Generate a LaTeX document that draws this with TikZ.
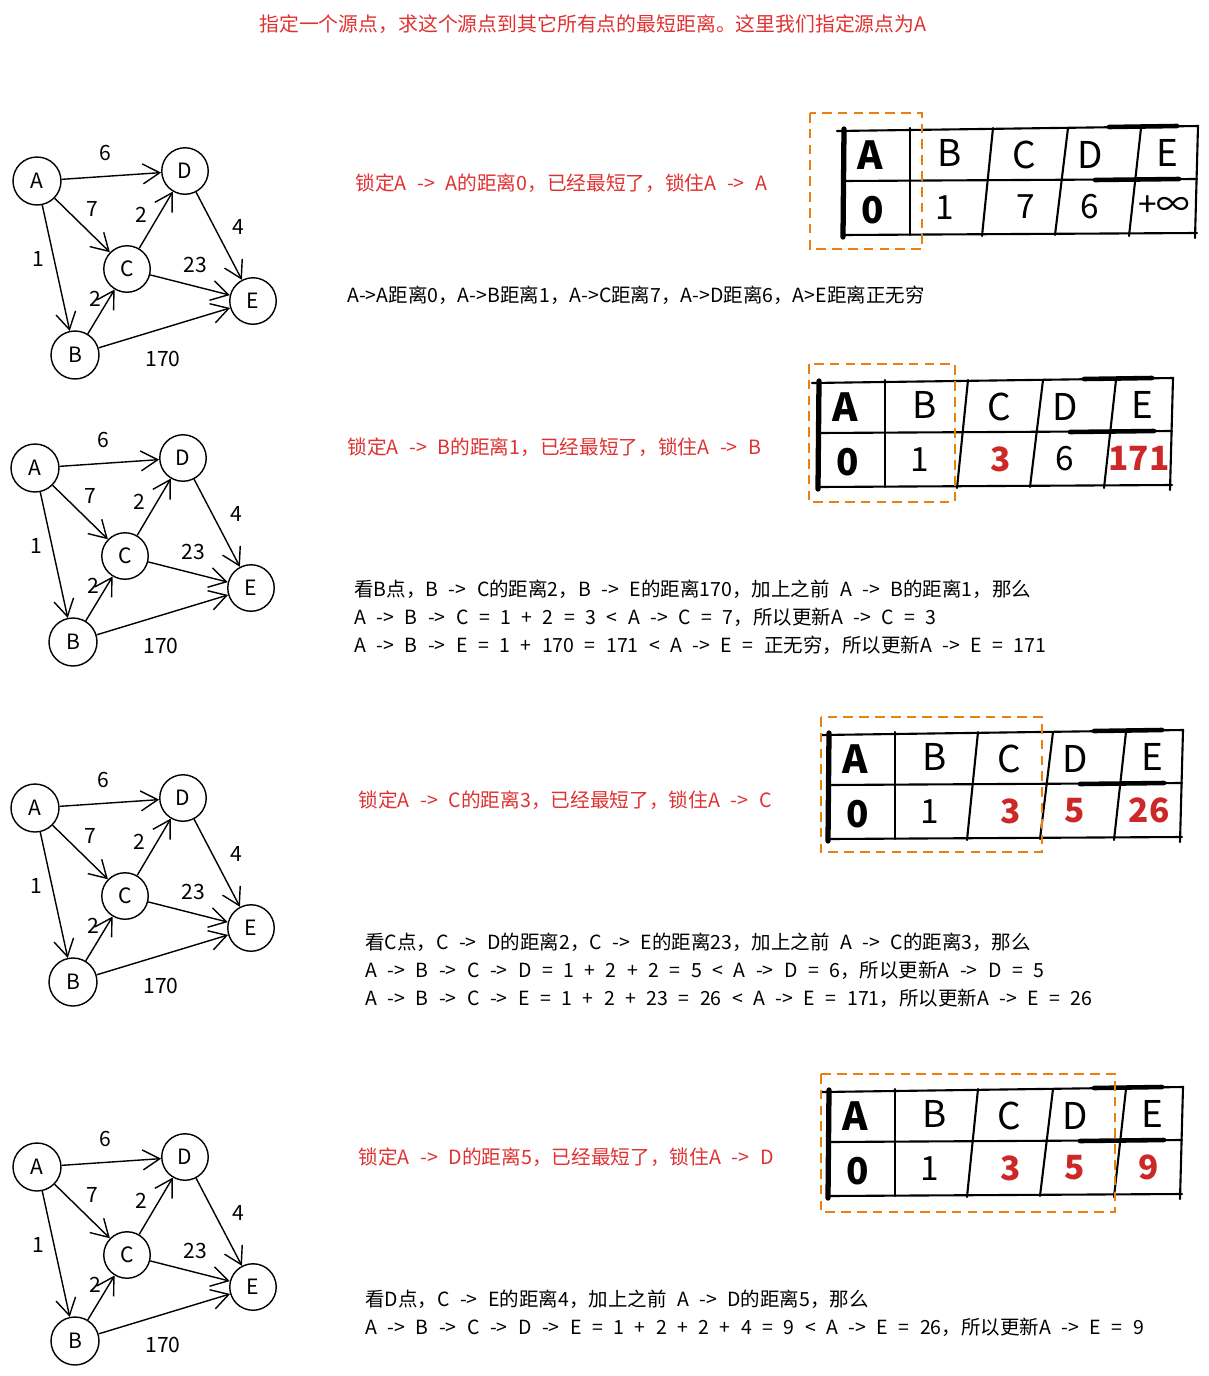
\documentclass[tikz,border=0pt]{standalone}
\usepackage{fontspec}
\setmainfont{Noto Sans CJK SC}[WordSpace=2.4]
\usetikzlibrary{arrows.meta}
\definecolor{notered}{RGB}{224,49,49}
\definecolor{valred}{RGB}{204,40,40}
\definecolor{lockorange}{RGB}{234,128,18}

% distance table: #1 prefix, #2 #3 shift, #4..#8 values
\newcommand\disttable[8]{%
\begin{scope}[shift={(#2,#3)}]
  \draw[tabline] (-6,3) -- (355,-2) -- (352,110);
  \draw[tabline] (0,107) -- (354,105);
  \draw[tabline,line width=3pt] (1,1) -- (0,109);
  \draw[tabline] (0,53) -- (354,51);
  \draw[tabline,line width=2.6pt] (252,52) -- (336,51);
  \draw[tabline,line width=2.6pt] (266,-1) -- (334,-2);
  \draw[tabline] (67,0) -- (67,107);
  \draw[tabline] (150,0) -- (139,108);
  \draw[tabline] (225,0) -- (212,107);
  \draw[tabline] (298,0) -- (286,108);
  \node[headcell,font=\bfseries\fontsize{22}{22}\selectfont] (#1hA) at (27,27) {A};
  \node[headcell] (#1hB) at (107,25) {B};
  \node[headcell] (#1hC) at (181,27) {C};
  \node[headcell] (#1hD) at (247,27) {D};
  \node[headcell] (#1hE) at (324,25) {E};
  \node[valcell,font=\bfseries\fontsize{21}{21}\selectfont] (#1vA) at (30,82) {#4};
  \node[valcell] (#1vB) at (102,80) {#5};
  \node[valcell] (#1vC) at (183,79) {#6};
  \node[valcell] (#1vD) at (247,79) {#7};
  \node[valcell] (#1vE) at (321,78) {#8};
\end{scope}}

\newcommand\hot[1]{\textcolor{valred}{\bfseries #1}}

\begin{document}
\begin{tikzpicture}[x=0.02cm,y=-0.02cm,
  vertex/.style={draw,circle,line width=0.8pt,minimum size=0.93cm,inner sep=0pt,
    font=\fontsize{12}{12}\selectfont},
  arc/.style={line width=0.8pt,-{Straight Barb[length=3.4mm,width=4mm]}},
  wlabel/.style={font=\fontsize{12}{12}\selectfont,inner sep=1pt},
  tabline/.style={line width=1.2pt,line cap=round},
  headcell/.style={font=\fontsize{21}{21}\selectfont,inner sep=0pt},
  valcell/.style={font=\fontsize{19}{19}\selectfont,inner sep=0pt},
  lockbox/.style={draw=lockorange,line width=1.3pt,dash pattern=on 5.5pt off 3.5pt},
  redtext/.style={text=notered,font=\fontsize{11.2}{15.9}\selectfont,inner sep=0pt},
  steptext/.style={font=\fontsize{11.1}{15.9}\selectfont,inner sep=0pt,align=left,anchor=west}]
\useasboundingbox (0,0) rectangle (1209,1376);

%%%%% GRAPHS %%%%%
\foreach \g/\gx/\gy in {1/37/181, 2/35/468, 3/35/808, 4/37/1167}{
  \begin{scope}[shift={(\gx,\gy)}]
    \node[vertex,minimum size=0.96cm] (A\g) at (0,0) {A};
    \node[vertex] (D\g) at (148,-10) {D};
    \node[vertex] (C\g) at (90,88) {C};
    \node[vertex] (E\g) at (216,120) {E};
    \node[vertex,minimum size=0.96cm] (B\g) at (38,174) {B};
    \draw[arc] (A\g) -- (D\g);
    \draw[arc] (A\g) -- (C\g);
    \draw[arc] (A\g) -- (B\g);
    \draw[arc] (C\g) -- (D\g);
    \draw[arc] (D\g) -- (E\g);
    \draw[arc] (C\g) -- (E\g);
    \draw[arc] (B\g) -- (C\g);
    \draw[arc] (B\g) -- (E\g);
    \node[wlabel] (wad\g) at (68,-28) {6};
    \node[wlabel] (wac\g) at (55,28) {7};
    \node[wlabel] (wcd\g) at (104,34) {2};
    \node[wlabel] (wab\g) at (1,78) {1};
    \node[wlabel] (wde\g) at (201,46) {4};
    \node[wlabel] (wce\g) at (158,84) {23};
    \node[wlabel] (wbc\g) at (58,118) {2};
    \node[wlabel] (wbe\g) at (126,178) {170};
  \end{scope}
}

%%%%% TABLES %%%%%
\disttable{ta}{843}{128}{0}{1}{7}{6}{+∞}
\disttable{tb}{818}{380}{0}{1}{\hot{3}}{6}{\hot{171}}
\disttable{tc}{828}{732}{0}{1}{\hot{3}}{\hot{5}}{\hot{26}}
\disttable{td}{828}{1089}{0}{1}{\hot{3}}{\hot{5}}{\hot{9}}

\draw[lockbox] (810,113) rectangle (922,249);
\draw[lockbox] (809,364) rectangle (955,502);
\draw[lockbox] (821,717) rectangle (1042,852);
\draw[lockbox] (821,1074) rectangle (1115,1212);

%%%%% TEXT %%%%%
\node[redtext,font=\fontsize{11.3}{14}\selectfont] (title) at (593,24)
  {指定一个源点，求这个源点到其它所有点的最短距离。这里我们指定源点为A};

\node[redtext,anchor=west] (lock1) at (355,183) {锁定A -> A的距离0，已经最短了，锁住A -> A};
\node[steptext] (step1) at (347,295) {A->A距离0，A->B距离1，A->C距离7，A->D距离6，A>E距离正无穷};

\node[redtext,anchor=west] (lock2) at (347,447) {锁定A -> B的距离1，已经最短了，锁住A -> B};
\node[steptext] (step2) at (354,617) {看B点，B -> C的距离2，B -> E的距离170，加上之前 A -> B的距离1，那么\\
  A -> B -> C = 1 + 2 = 3 < A -> C = 7，所以更新A -> C = 3\\
  A -> B -> E = 1 + 170 = 171 < A -> E = 正无穷，所以更新A -> E = 171};

\node[redtext,anchor=west] (lock3) at (358,800) {锁定A -> C的距离3，已经最短了，锁住A -> C};
\node[steptext] (step3) at (365,970) {看C点，C -> D的距离2，C -> E的距离23，加上之前 A -> C的距离3，那么\\
  A -> B -> C -> D = 1 + 2 + 2 = 5 < A -> D = 6，所以更新A -> D = 5\\
  A -> B -> C -> E = 1 + 2 + 23 = 26 < A -> E = 171，所以更新A -> E = 26};

\node[redtext,anchor=west] (lock4) at (358,1157) {锁定A -> D的距离5，已经最短了，锁住A -> D};
\node[steptext] (step4) at (365,1313) {看D点，C -> E的距离4，加上之前 A -> D的距离5，那么\\
  A -> B -> C -> D -> E = 1 + 2 + 2 + 4 = 9 < A -> E = 26，所以更新A -> E = 9};
\end{tikzpicture}
\end{document}
